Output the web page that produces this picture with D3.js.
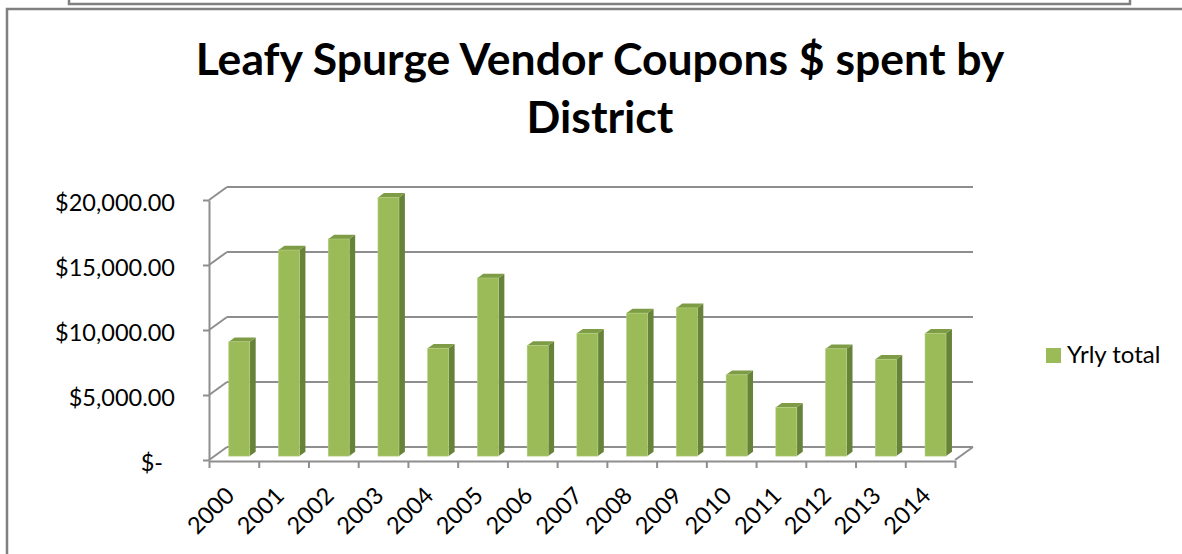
<!DOCTYPE html>
<html>
<head>
<meta charset="utf-8">
<script src="https://cdn.jsdelivr.net/npm/d3@7"></script>
<style>
  body { margin: 0; background: white; }
  svg { display: block; font-family: Lato, "Open Sans", sans-serif; }
</style>
</head>
<body>
<div id="chart"></div>
<script>
const years = ['2000', '2001', '2002', '2003', '2004', '2005', '2006', '2007',
  '2008', '2009', '2010', '2011', '2012', '2013', '2014'];
const totals = [8800, 15850, 16700, 19900, 8300, 13700, 8500, 9450,
  11000, 11400, 6250, 3750, 8250, 7450, 9450];
const yTicks = [0, 5000, 10000, 15000, 20000];
const seriesName = 'Yrly total';
const titleLines = ['Leafy Spurge Vendor Coupons $ spent by', 'District'];

function mkModel() {
  let model = {
    width: 1182,
    height: 554,
    left: 209,
    right: 955,
    top: 200,
    base: 460,
    // 3d depth offset of the back wall
    depthX: 18,
    depthY: -13,
    // bars sit between these depth fractions
    z0: 0.3,
    z1: 0.63,
    labelSize: 23.5
  };

  model.x = d3.scaleBand()
    .domain(years)
    .range([model.left, model.right])
    .paddingInner(0.578)
    .paddingOuter(0.289);

  model.xEdge = d3.scaleLinear()
    .domain([0, years.length])
    .range([model.left, model.right]);

  model.y = d3.scaleLinear()
    .domain([0, 20000])
    .range([model.base, model.top]);

  model.colors = {
    front: '#9bbb59',
    side: '#67833a',
    top: '#7e9c46',
    grid: '#8e8e8e',
    frame: '#808080'
  };

  return model;
}

function money(v) {
  if (v === 0) return '$-';
  return '$' + d3.format(',.2f')(v);
}

function frame(svg, model) {
  // edge of the box above the chart
  svg.append('path')
    .attr('d', 'M69 0 L69 4 L1130 4 L1130 0')
    .attr('fill', 'none')
    .attr('stroke', model.colors.frame)
    .attr('stroke-width', 2.5);

  // chart area border
  svg.append('path')
    .attr('d', 'M7 554 L7 9 L1182 9')
    .attr('fill', 'none')
    .attr('stroke', model.colors.frame)
    .attr('stroke-width', 2.5);
}

function title(svg, model) {
  svg.selectAll('.title').data(titleLines)
    .join('text')
    .attr('class', 'title')
    .attr('x', 600)
    .attr('y', (d, i) => 75 + i * 58)
    .attr('text-anchor', 'middle')
    .attr('font-size', 44.5)
    .attr('font-weight', 'bold')
    .attr('fill', '#000')
    .text((d) => d);
}

function walls(svg, model) {
  let dx = model.depthX, dy = model.depthY;
  let g = svg.append('g').attr('id', 'walls');

  // back wall gridlines
  g.selectAll('.grid').data(yTicks)
    .join('line')
    .attr('x1', model.left + dx)
    .attr('x2', model.right + dx)
    .attr('y1', (d) => model.y(d) + dy)
    .attr('y2', (d) => model.y(d) + dy)
    .attr('stroke', model.colors.grid)
    .attr('stroke-width', 2);

  // side wall diagonals
  g.selectAll('.diag').data(yTicks)
    .join('line')
    .attr('x1', model.left)
    .attr('x2', model.left + dx)
    .attr('y1', (d) => model.y(d))
    .attr('y2', (d) => model.y(d) + dy)
    .attr('stroke', model.colors.grid)
    .attr('stroke-width', 2);

  // floor right edge
  g.append('line')
    .attr('x1', model.right)
    .attr('x2', model.right + dx)
    .attr('y1', model.y(0))
    .attr('y2', model.y(0) + dy)
    .attr('stroke', model.colors.grid)
    .attr('stroke-width', 2);
}

function bars(svg, model) {
  let x = model.x, y = model.y;
  let dx = model.depthX, dy = model.depthY;
  let bw = x.bandwidth();
  let ox = model.z0 * dx, oy = model.z0 * dy;
  let sx = (model.z1 - model.z0) * dx, sy = (model.z1 - model.z0) * dy;
  let data = years.map((yr, i) => ({ year: yr, value: totals[i] }));

  let g = svg.selectAll('.bar').data(data)
    .join('g')
    .attr('class', 'bar');

  // side face
  g.append('path')
    .attr('d', (d) => {
      let x1 = x(d.year) + ox + bw, yb = y(0) + oy, yt = y(d.value) + oy;
      return 'M' + x1 + ' ' + yb + ' L' + x1 + ' ' + yt +
        ' L' + (x1 + sx) + ' ' + (yt + sy) + ' L' + (x1 + sx) + ' ' + (yb + sy) + ' Z';
    })
    .attr('fill', model.colors.side);

  // top face
  g.append('path')
    .attr('d', (d) => {
      let x0 = x(d.year) + ox, yt = y(d.value) + oy;
      return 'M' + x0 + ' ' + yt + ' L' + (x0 + bw) + ' ' + yt +
        ' L' + (x0 + bw + sx) + ' ' + (yt + sy) + ' L' + (x0 + sx) + ' ' + (yt + sy) + ' Z';
    })
    .attr('fill', model.colors.top);

  // front face
  g.append('rect')
    .attr('x', (d) => x(d.year) + ox)
    .attr('y', (d) => y(d.value) + oy)
    .attr('width', bw)
    .attr('height', (d) => y(0) - y(d.value))
    .attr('fill', model.colors.front)
    .attr('stroke', '#b4cf80')
    .attr('stroke-width', 0.6);
}

function axes(svg, model) {
  let yAxis = svg.append('g')
    .attr('transform', 'translate(' + model.left + ',0)')
    .call(d3.axisLeft(model.y).tickValues(yTicks).tickFormat('').tickSize(6).tickSizeOuter(0));

  let xAxis = svg.append('g')
    .attr('transform', 'translate(0,' + (model.base + 1) + ')')
    .call(d3.axisBottom(model.xEdge).tickValues(d3.range(years.length + 1)).tickFormat('').tickSize(7).tickSizeOuter(0));

  [yAxis, xAxis].forEach((a) => {
    a.selectAll('path, line')
      .attr('stroke', model.colors.grid)
      .attr('stroke-width', 2);
  });

  // y labels
  svg.selectAll('.ylabel').data(yTicks)
    .join('text')
    .attr('class', 'ylabel')
    .attr('x', (d) => d === 0 ? 163 : 175)
    .attr('y', (d) => model.y(d))
    .attr('dy', '0.45em')
    .attr('text-anchor', 'end')
    .attr('font-size', model.labelSize)
    .attr('fill', '#000')
    .text(money);

  // x labels, rotated
  svg.selectAll('.xlabel').data(years)
    .join('text')
    .attr('class', 'xlabel')
    .attr('text-anchor', 'end')
    .attr('font-size', model.labelSize)
    .attr('fill', '#000')
    .attr('transform', (d) => 'translate(' + (model.x(d) + model.x.bandwidth() / 2 + 2) + ',' + 497 + ') rotate(-45)')
    .text((d) => d);
}

function legend(svg, model) {
  svg.append('rect')
    .attr('x', 1046)
    .attr('y', 348)
    .attr('width', 15)
    .attr('height', 15)
    .attr('fill', model.colors.front);

  svg.append('text')
    .attr('x', 1067)
    .attr('y', 363)
    .attr('font-size', 24)
    .attr('fill', '#000')
    .text(seriesName);
}

function main() {
  let model = mkModel();
  let svg = d3.select('#chart').append('svg')
    .attr('width', model.width)
    .attr('height', model.height);

  frame(svg, model);
  title(svg, model);
  walls(svg, model);
  axes(svg, model);
  bars(svg, model);
  legend(svg, model);
}

main();
</script>
</body>
</html>
